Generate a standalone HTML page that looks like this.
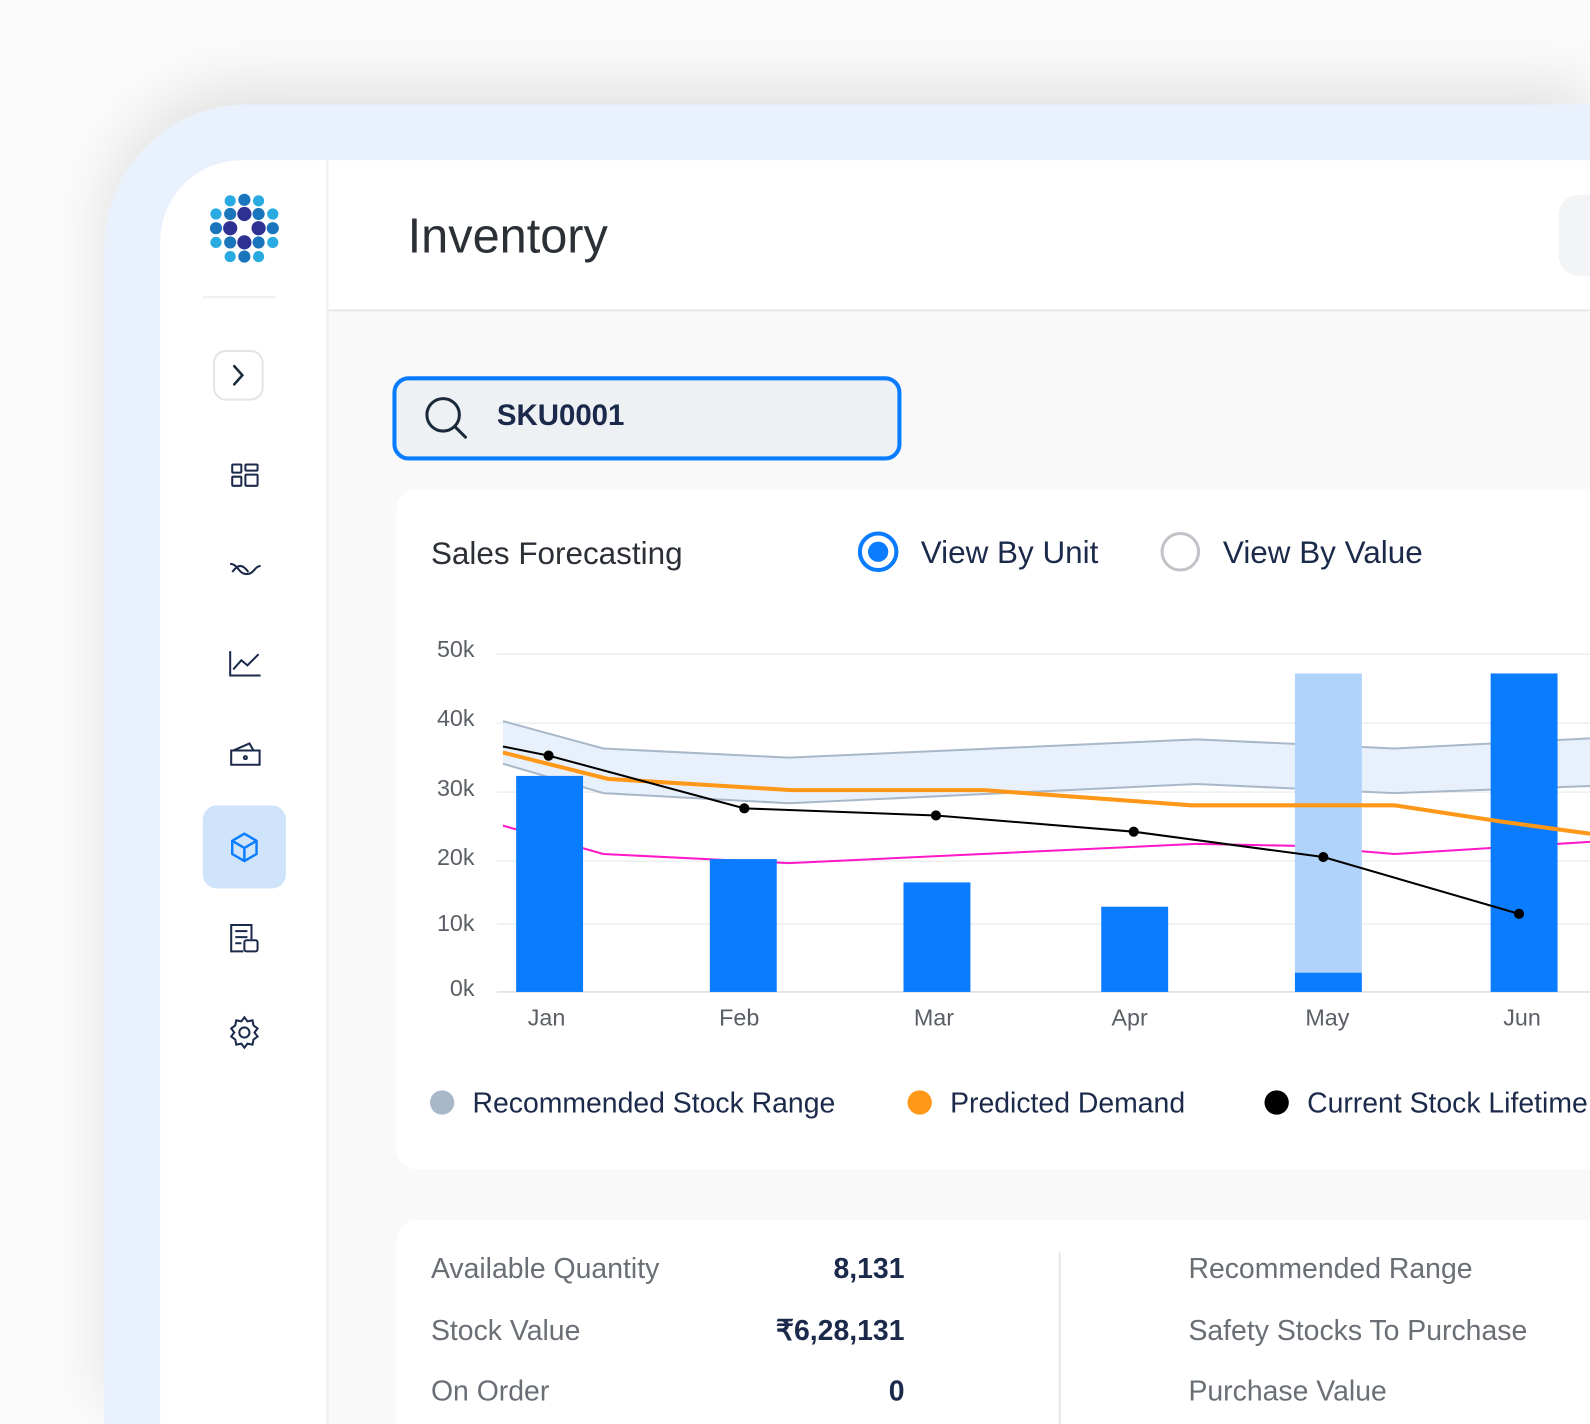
<!DOCTYPE html>
<html><head><meta charset="utf-8"><style>
html,body{margin:0;padding:0;width:1590px;height:1424px;overflow:hidden;background:#fbfbfb;font-family:"Liberation Sans",sans-serif}
#w{position:absolute;left:0;top:0;width:1568px;height:1404px;transform:scale(1.01403,1.01425);transform-origin:0 0;overflow:hidden}
.abs{position:absolute}
</style></head><body><div id="w">
<div class="abs" style="left:103px;top:103px;width:1465px;height:1301px;background:#e9f1fc;border-top-left-radius:140px;box-shadow:0 -20px 60px rgba(0,0,0,0.10)"></div>
<div class="abs" style="left:158px;top:158px;width:1410px;height:1246px;background:#fff;border-top-left-radius:80px;overflow:hidden">
  <div class="abs" style="left:164px;top:0;width:2px;height:1246px;background:#eceef0"></div>
  <div class="abs" style="left:166px;top:147px;width:1244px;height:1097px;background:#f9f9f9;border-top:2px solid #e6e8ea"></div>
</div>
<div class="abs" style="left:200px;top:292px;width:72px;height:2px;background:#eef0f2"></div>
<svg class="abs" style="left:0;top:0" width="1568" height="1404">
 <g>
  <circle cx="227" cy="198" r="5.5" fill="#29abe2"/><circle cx="241" cy="197" r="6" fill="#1b75bc"/><circle cx="255" cy="198" r="5.5" fill="#29abe2"/>
  <circle cx="213" cy="211" r="5.5" fill="#29abe2"/><circle cx="227" cy="211" r="6" fill="#1b75bc"/><circle cx="241" cy="211" r="7" fill="#2e3192"/><circle cx="255" cy="211" r="6" fill="#1b75bc"/><circle cx="269" cy="211" r="5.5" fill="#29abe2"/>
  <circle cx="213" cy="225" r="6" fill="#1b75bc"/><circle cx="227" cy="225" r="7" fill="#2e3192"/><circle cx="255" cy="225" r="7" fill="#2e3192"/><circle cx="269" cy="225" r="6" fill="#1b75bc"/>
  <circle cx="213" cy="239" r="5.5" fill="#29abe2"/><circle cx="227" cy="239" r="6" fill="#1b75bc"/><circle cx="241" cy="239" r="7" fill="#2e3192"/><circle cx="255" cy="239" r="6" fill="#1b75bc"/><circle cx="269" cy="239" r="5.5" fill="#29abe2"/>
  <circle cx="227" cy="253" r="5.5" fill="#29abe2"/><circle cx="241" cy="253" r="6" fill="#1b75bc"/><circle cx="255" cy="253" r="5.5" fill="#29abe2"/>
 </g>
 <rect x="211" y="346" width="48" height="48" rx="12" fill="#fff" stroke="#e2e5e8" stroke-width="2"/>
 <path d="M231 361l8 9-8 9" fill="none" stroke="#1b2a3a" stroke-width="2.5" stroke-linecap="round"/>
 <g fill="none" stroke="#1b2a4a" stroke-width="2">
  <rect x="229" y="458" width="9" height="8" rx="1"/><rect x="242" y="458" width="12" height="6" rx="1"/><rect x="229" y="470" width="9" height="9" rx="1"/><rect x="242" y="468" width="12" height="11" rx="1"/>
  <path d="M227 556c8 0 8 10 16 10s8-8 14-8M229 564c6-8 10-8 16 0"/>
  <path d="M227 642v24h30M230 660l8-9 6 5 11-11"/>
  <path d="M228 740h28v14h-28zM230 740l16-7 4 7"/><circle cx="242" cy="747" r="1.5"/>
 </g>
 <rect x="200" y="794" width="82" height="82" rx="14" fill="#cfe4fb"/>
 <g fill="none" stroke="#0a7cff" stroke-width="2.4" stroke-linejoin="round"><path d="M241 822l12 7v13l-12 7-12-7v-13zM229 829l12 7 12-7M241 836v13"/></g>
 <g fill="none" stroke="#1b2a4a" stroke-width="2">
  <path d="M248 926v-14h-20v26h12M232 918h12M232 924h12M232 930h6"/><rect x="241" y="927" width="13" height="11" rx="2"/>
  <circle cx="241" cy="1018" r="5"/><path d="M241 1003l3 4 5-1 1 5 4 3-3 4 3 4-4 3-1 5-5-1-3 4-3-4-5 1-1-5-4-3 3-4-3-4 4-3 1-5 5 1z"/>
 </g>
</svg>
<div class="abs" style="left:402px;top:206px;font-size:48px;color:#2b2f36">Inventory</div>
<div class="abs" style="left:1537px;top:192px;width:31px;height:80px;border-radius:20px 0 0 20px;background:#f3f4f6"></div>
<div class="abs" style="left:387px;top:371px;width:494px;height:75px;border:4px solid #0a7cff;border-radius:16px;background:#eef1f4"></div>
<svg class="abs" style="left:415px;top:388px" width="50" height="50"><circle cx="22" cy="21" r="16" fill="none" stroke="#1b2a3a" stroke-width="3"/><path d="M34 33l10 10" stroke="#1b2a3a" stroke-width="3" stroke-linecap="round"/></svg>
<div class="abs" style="left:490px;top:394px;font-size:29px;font-weight:bold;color:#1b2a4a">SKU0001</div>
<div class="abs" style="left:391px;top:482px;width:1177px;height:671px;background:#fff;border-radius:20px 0 0 20px"></div>
<div class="abs" style="left:425px;top:528px;font-size:31px;color:#2b2f36">Sales Forecasting</div>
<svg class="abs" style="left:0;top:0" width="1568" height="1404">
 <circle cx="866" cy="544" r="18" fill="none" stroke="#0a7cff" stroke-width="4"/><circle cx="866" cy="544" r="10" fill="#0a7cff"/>
 <circle cx="1164" cy="544" r="18" fill="none" stroke="#c0c4c9" stroke-width="3"/>
 <g stroke="#eceef0" stroke-width="1.5"><line x1="490" y1="645" x2="1568" y2="645"/><line x1="490" y1="713" x2="1568" y2="713"/><line x1="490" y1="781" x2="1568" y2="781"/><line x1="490" y1="849" x2="1568" y2="849"/><line x1="490" y1="911" x2="1568" y2="911"/><line x1="490" y1="978" x2="1568" y2="978" stroke="#dde0e3"/></g>
 <polygon points="496,711 595,738 778,747 1180,729 1375,738 1568,728 1568,775 1375,782 1180,773 778,792 595,782 496,753" fill="#e8f1fb"/>
 <polyline points="496,711 595,738 778,747 1180,729 1375,738 1568,728" fill="none" stroke="#a9b8c8" stroke-width="2"/>
 <polyline points="496,753 595,782 778,792 1180,773 1375,782 1568,775" fill="none" stroke="#a9b8c8" stroke-width="2"/>
 <polyline points="496,814 595,842 778,851 1180,832 1280,834 1375,842 1568,830" fill="none" stroke="#ff17c8" stroke-width="2"/>
 <rect x="509" y="765" width="66" height="213" fill="#0a7cff"/>
 <rect x="700" y="847" width="66" height="131" fill="#0a7cff"/>
 <rect x="891" y="870" width="66" height="108" fill="#0a7cff"/>
 <rect x="1086" y="894" width="66" height="84" fill="#0a7cff"/>
 <rect x="1277" y="664" width="66" height="295" fill="#b0d3fb"/>
 <rect x="1277" y="959" width="66" height="19" fill="#0a7cff"/>
 <rect x="1470" y="664" width="66" height="314" fill="#0a7cff"/>
 <polyline points="496,742 600,768 780,779 970,779 1175,794 1375,794 1480,810 1568,822" fill="none" stroke="#ff9818" stroke-width="4"/>
 <polyline points="496,736 541,745 734,797 923,804 1118,820 1305,845 1498,901" fill="none" stroke="#000" stroke-width="2"/>
 <g fill="#000"><circle cx="541" cy="745" r="5"/><circle cx="734" cy="797" r="5"/><circle cx="923" cy="804" r="5"/><circle cx="1118" cy="820" r="5"/><circle cx="1305" cy="845" r="5"/><circle cx="1498" cy="901" r="5"/></g>
 <g font-family="Liberation Sans" font-size="23" fill="#5a5f66" text-anchor="end"><text x="468" y="648">50k</text><text x="468" y="716">40k</text><text x="468" y="785">30k</text><text x="468" y="853">20k</text><text x="468" y="918">10k</text><text x="468" y="982">0k</text></g>
 <g font-family="Liberation Sans" font-size="23" fill="#5a5f66" text-anchor="middle"><text x="539" y="1011">Jan</text><text x="729" y="1011">Feb</text><text x="921" y="1011">Mar</text><text x="1114" y="1011">Apr</text><text x="1309" y="1011">May</text><text x="1501" y="1011">Jun</text></g>
 <circle cx="436" cy="1087" r="12" fill="#a9b8c8"/><circle cx="907" cy="1087" r="12" fill="#ff9818"/><circle cx="1259" cy="1087" r="12" fill="#000"/>
 <g font-family="Liberation Sans" font-size="28" fill="#1b2a4a"><text x="466" y="1097">Recommended Stock Range</text><text x="937" y="1097">Predicted Demand</text><text x="1289" y="1097">Current Stock Lifetime</text></g>
</svg>
<div class="abs" style="left:908px;top:527px;font-size:31px;color:#1b2a4a">View By Unit</div>
<div class="abs" style="left:1206px;top:527px;font-size:31px;color:#1b2a4a">View By Value</div>
<div class="abs" style="left:391px;top:1203px;width:1177px;height:201px;background:#fff;border-radius:20px 0 0 0"></div>
<div class="abs" style="left:1044px;top:1235px;width:2px;height:169px;background:#e4e6e9"></div>
<div class="abs" style="left:425px;top:1236px;font-size:28px;color:#6a6f76;line-height:30px">Available Quantity</div>
<div class="abs" style="left:425px;top:1297px;font-size:28px;color:#6a6f76;line-height:30px">Stock Value</div>
<div class="abs" style="left:425px;top:1357px;font-size:28px;color:#6a6f76;line-height:30px">On Order</div>
<div class="abs" style="left:592px;width:300px;text-align:right;top:1236px;font-size:28px;font-weight:bold;color:#1b2a4a;line-height:30px">8,131</div>
<div class="abs" style="left:592px;width:300px;text-align:right;top:1297px;font-size:28px;font-weight:bold;color:#1b2a4a;line-height:30px">₹6,28,131</div>
<div class="abs" style="left:592px;width:300px;text-align:right;top:1357px;font-size:28px;font-weight:bold;color:#1b2a4a;line-height:30px">0</div>
<div class="abs" style="left:1172px;top:1236px;font-size:28px;color:#6a6f76;line-height:30px">Recommended Range</div>
<div class="abs" style="left:1172px;top:1297px;font-size:28px;color:#6a6f76;line-height:30px">Safety Stocks To Purchase</div>
<div class="abs" style="left:1172px;top:1357px;font-size:28px;color:#6a6f76;line-height:30px">Purchase Value</div>
</div></body></html>
